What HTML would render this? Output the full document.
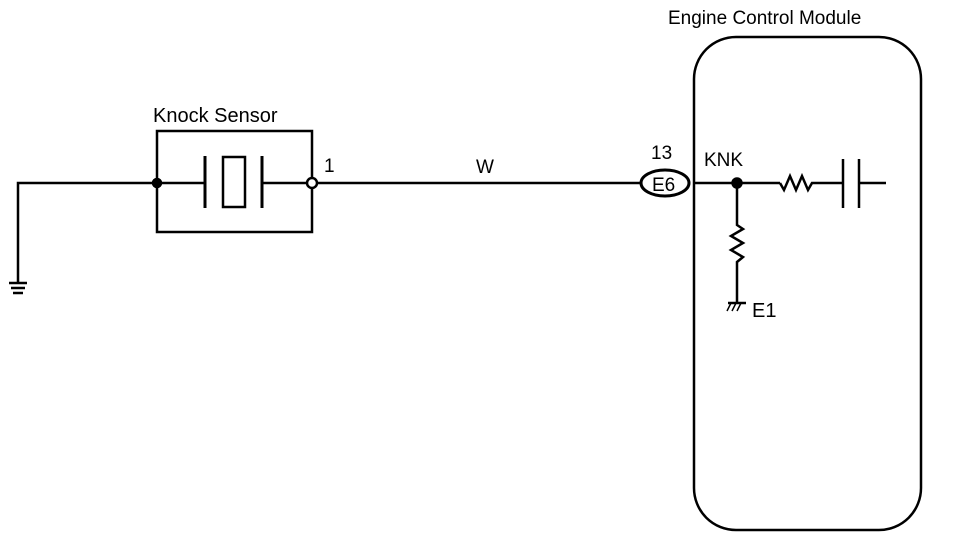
<!DOCTYPE html>
<html><head><style>body{margin:0;background:#fff}svg{display:block}text{font-family:"Liberation Sans",sans-serif;fill:#000}</style></head><body>
<svg width="960" height="540" viewBox="0 0 960 540" xmlns="http://www.w3.org/2000/svg" stroke="#000" fill="none" stroke-width="2.5">
<text x="668" y="24" font-size="19" stroke="none">Engine Control Module</text>
<rect x="694" y="37" width="227" height="493" rx="42"/>
<text x="153" y="122" font-size="20" stroke="none">Knock Sensor</text>
<rect x="157" y="131" width="155" height="101"/>
<polyline points="157,183 18,183 18,283"/>
<line x1="9" y1="283" x2="27" y2="283"/><line x1="11" y1="288" x2="25" y2="288"/><line x1="13" y1="293" x2="23" y2="293"/>
<circle cx="157" cy="183" r="4" fill="#000"/>
<line x1="157" y1="183" x2="204" y2="183"/>
<line x1="205" y1="156" x2="205" y2="208" stroke-width="3"/>
<rect x="223" y="157" width="22" height="50"/>
<line x1="262" y1="156" x2="262" y2="208" stroke-width="3"/>
<line x1="262" y1="183" x2="307" y2="183"/>
<circle cx="312" cy="183" r="5" fill="#fff"/>
<text x="324" y="172" font-size="19" stroke="none">1</text>
<line x1="317" y1="183" x2="640" y2="183"/>
<text x="476" y="173" font-size="19" stroke="none">W</text>
<text x="651" y="159" font-size="19" stroke="none">13</text>
<ellipse cx="665" cy="183" rx="24" ry="13" fill="#fff" stroke-width="3"/>
<text x="652" y="191" font-size="19" stroke="none">E6</text>
<text x="704" y="166" font-size="19" stroke="none">KNK</text>
<line x1="694" y1="183" x2="780" y2="183"/>
<circle cx="737" cy="183" r="4.5" fill="#000"/>
<polyline points="780,183 784,190 790,176 796,190 802,176 808,190 812,183 843,183"/>
<line x1="843" y1="159" x2="843" y2="208"/><line x1="859" y1="159" x2="859" y2="208"/>
<line x1="859" y1="183" x2="886" y2="183"/>
<polyline points="737,183 737,225 743,229 731,236 743,243 731,250 743,257 737,262 737,303"/>
<line x1="728" y1="303" x2="746" y2="303"/>
<line x1="731" y1="303" x2="727" y2="311" stroke-width="1.5"/><line x1="736" y1="303" x2="732" y2="311" stroke-width="1.5"/><line x1="741" y1="303" x2="737" y2="311" stroke-width="1.5"/>
<text x="752" y="317" font-size="20" stroke="none">E1</text>
</svg>
</body></html>
